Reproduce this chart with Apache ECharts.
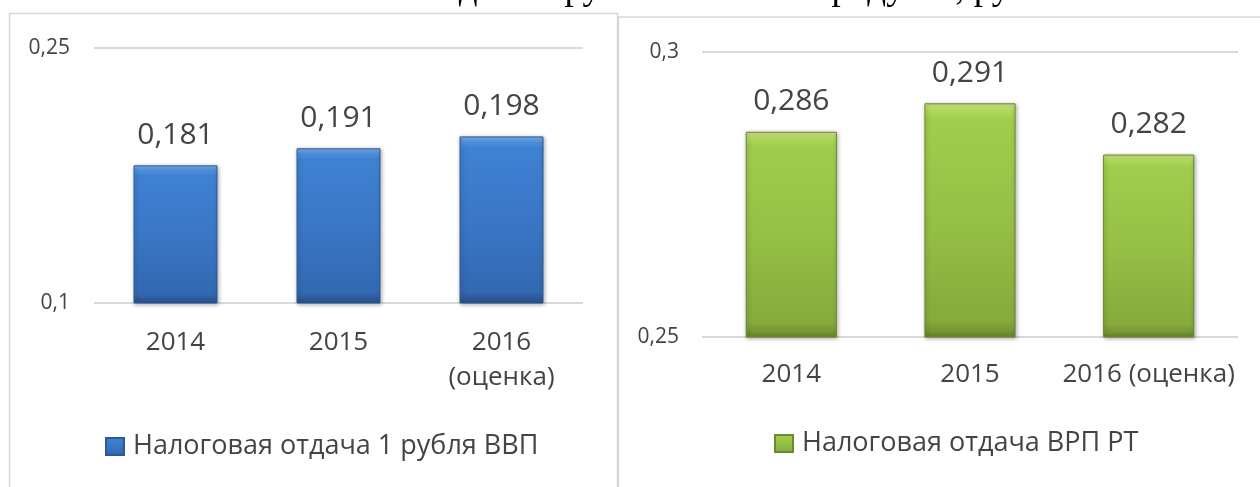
<!DOCTYPE html>
<html>
<head>
<meta charset="utf-8">
<script src="https://cdn.jsdelivr.net/npm/echarts@6/dist/echarts.min.js"></script>
<style>
html,body{margin:0;padding:0;background:#fff;}
#c{width:1260px;height:487px;}
</style>
</head>
<body>
<div id="c"></div>
<script>
const titleText = 'Налоговая отдача 1 рубля валового продукта, руб.';
const categoriesLeft = ['2014', '2015', '2016\n(оценка)'];
const valuesLeft = [0.181, 0.191, 0.198];
const seriesNameLeft = 'Налоговая отдача 1 рубля ВВП';
const yTicksLeft = [0.1, 0.25];

const categoriesRight = ['2014', '2015', '2016 (оценка)'];
const valuesRight = [0.286, 0.291, 0.282];
const seriesNameRight = 'Налоговая отдача ВРП РТ';
const yTicksRight = [0.25, 0.3];

const FONT = '"Open Sans", "Noto Sans", sans-serif';
const TXT = '#444444';

function grad(stops) {
  return new echarts.graphic.LinearGradient(0, 0, 0, 1, stops.map(s => ({offset: s[0], color: s[1]})));
}
const blueFill = grad([[0, '#7db3ee'], [0.035, '#4f90dc'], [0.07, '#3f81d2'], [0.5, '#3a77c6'], [0.93, '#3368b2'], [0.97, '#2c5a9a'], [1, '#274f88']]);
const greenFill = grad([[0, '#cde685'], [0.035, '#aed75b'], [0.07, '#a1cd4d'], [0.5, '#96c046'], [0.93, '#86aa3c'], [0.97, '#769632'], [1, '#66822b']]);

const fmt = v => String(+v.toFixed(3)).replace('.', ',');

const chart = echarts.init(document.getElementById('c'), null, {renderer: 'canvas'});
chart.setOption({
  animation: false,
  backgroundColor: '#ffffff',
  textStyle: {fontFamily: FONT},
  graphic: [
    {type: 'rect', shape: {x: 9.5, y: 13.5, width: 608, height: 520}, style: {fill: 'none', stroke: '#d6d6d6', lineWidth: 1.5}, z: -10},
    {type: 'rect', shape: {x: 618.5, y: 17, width: 700, height: 520}, style: {fill: '#fff', stroke: '#d6d6d6', lineWidth: 1.5}, z: -9},
    {type: 'text', x: 645, y: 8, style: {text: titleText, font: '37px "Liberation Serif", "Times New Roman", serif', fill: '#000', textAlign: 'center', textVerticalAlign: 'bottom'}, z: 10}
  ],
  legend: [
    {data: [seriesNameLeft], left: 100, top: 428, itemWidth: 18, itemHeight: 17, icon: 'rect',
     textStyle: {fontSize: 27, color: TXT, fontFamily: FONT, padding: [0, 0, 0, 4]}},
    {data: [seriesNameRight], left: 769, top: 425, itemWidth: 18, itemHeight: 17, icon: 'rect',
     textStyle: {fontSize: 27, color: TXT, fontFamily: FONT, padding: [0, 0, 0, 4]}}
  ],
  grid: [
    {left: 94, right: 1260 - 583, top: 48, bottom: 487 - 303},
    {left: 702, right: 1260 - 1238, top: 52, bottom: 487 - 337}
  ],
  xAxis: [
    {type: 'category', gridIndex: 0, data: categoriesLeft, axisLine: {show: false}, axisTick: {show: false},
     axisLabel: {interval: 0, fontSize: 26, color: TXT, lineHeight: 35, margin: 22, fontFamily: FONT}},
    {type: 'category', gridIndex: 1, data: categoriesRight, axisLine: {show: false}, axisTick: {show: false},
     axisLabel: {interval: 0, fontSize: 26, color: TXT, lineHeight: 35, margin: 20, fontFamily: FONT}}
  ],
  yAxis: [
    {type: 'value', gridIndex: 0, min: yTicksLeft[0], max: yTicksLeft[1], interval: yTicksLeft[1] - yTicksLeft[0],
     axisLine: {show: false}, axisTick: {show: false},
     axisLabel: {fontSize: 21, color: TXT, margin: 24, formatter: fmt, fontFamily: FONT},
     splitLine: {lineStyle: {color: '#d9d9d9', width: 2}}},
    {type: 'value', gridIndex: 1, min: yTicksRight[0], max: yTicksRight[1], interval: yTicksRight[1] - yTicksRight[0],
     axisLine: {show: false}, axisTick: {show: false},
     axisLabel: {fontSize: 21, color: TXT, margin: 23, formatter: fmt, fontFamily: FONT},
     splitLine: {lineStyle: {color: '#d9d9d9', width: 2}}}
  ],
  series: [
    {type: 'bar', name: seriesNameLeft, xAxisIndex: 0, yAxisIndex: 0, data: valuesLeft, barWidth: '51.5%',
     itemStyle: {color: blueFill, borderColor: '#2d5a96', borderWidth: 1, shadowColor: 'rgba(0,0,0,0.35)', shadowBlur: 4, shadowOffsetX: 1, shadowOffsetY: 1},
     label: {show: true, position: 'top', distance: 15, fontSize: 30, color: TXT, formatter: p => fmt(p.value), fontFamily: FONT}},
    {type: 'bar', name: seriesNameRight, xAxisIndex: 1, yAxisIndex: 1, data: valuesRight, barWidth: '51%',
     itemStyle: {color: greenFill, borderColor: '#6a8a2d', borderWidth: 1, shadowColor: 'rgba(0,0,0,0.35)', shadowBlur: 4, shadowOffsetX: 1, shadowOffsetY: 1},
     label: {show: true, position: 'top', distance: 15, fontSize: 30, color: TXT, formatter: p => fmt(p.value), fontFamily: FONT}}
  ]
});
</script>
</body>
</html>
